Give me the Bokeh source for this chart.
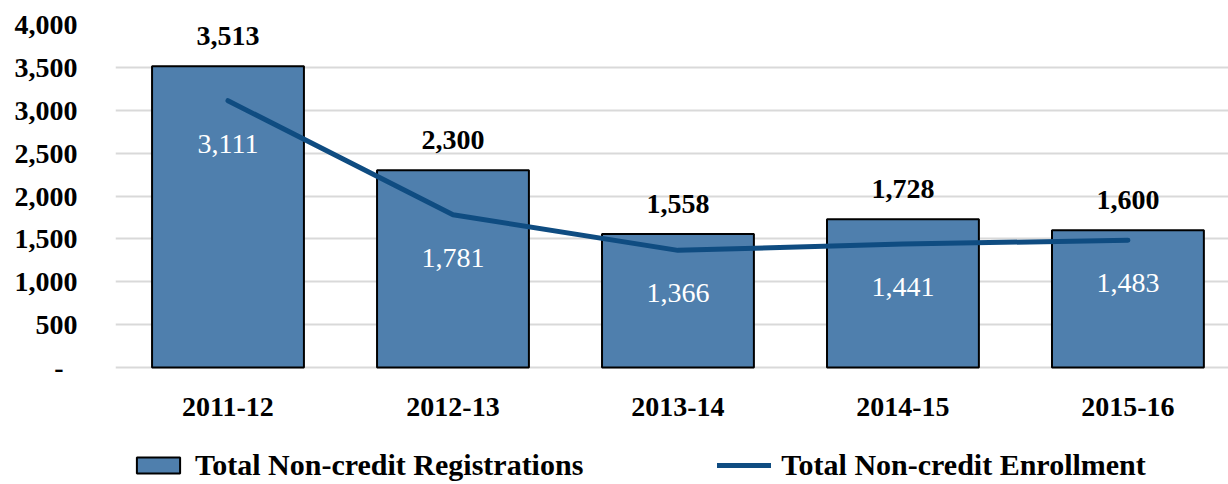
from bokeh.plotting import figure
from bokeh.models import ColumnDataSource, FixedTicker, NumeralTickFormatter, Legend, LegendItem
from bokeh.embed import file_html
from bokeh.resources import INLINE
from bokeh.core.properties import value

years = ["2011-12", "2012-13", "2013-14", "2014-15", "2015-16"]
registrations = [3513, 2300, 1558, 1728, 1600]
enrollment = [3111, 1781, 1366, 1441, 1483]
y_ticks = [0, 500, 1000, 1500, 2000, 2500, 3000, 3500, 4000]

FONT = "Liberation Serif"
FS = "28px"
BAR = "#4F7FAD"
LINE = "#0F4C81"

xs = list(range(len(years)))
src = ColumnDataSource(dict(
    x=xs, reg=registrations, enr=enrollment,
    reg_lbl=[f"{v:,}" for v in registrations],
    enr_lbl=[f"{v:,}" for v in enrollment],
))

# frame spans the whole height; 4000 at 24px from top, 0 at 367px
p = figure(width=1228, height=484, x_range=(-0.5, 4.447), y_range=(-1364.4, 4000),
           output_backend="svg", toolbar_location=None,
           min_border_left=115, min_border_right=0, min_border_top=24, min_border_bottom=0)
p.outline_line_color = None
p.background_fill_color = "white"

bars = p.vbar(x="x", top="reg", width=0.675, source=src, fill_color=BAR,
              line_color="black", line_width=2)
line = p.line(x="x", y="enr", source=src, line_width=5, line_color=LINE, line_cap="round")

p.text(x="x", y="reg", text="reg_lbl", source=src, y_offset=-30,
       text_align="center", text_baseline="middle", text_font=value(FONT),
       text_font_size=FS, text_font_style="bold", text_color="black")
p.text(x="x", y="enr", text="enr_lbl", source=src, y_offset=43,
       text_align="center", text_baseline="middle", text_font=value(FONT),
       text_font_size=FS, text_color="white")

# axes
p.yaxis.ticker = FixedTicker(ticks=y_ticks)
p.yaxis.formatter = NumeralTickFormatter(format="0,0")
p.yaxis.major_label_overrides = {0: "-\u00a0\u00a0"}
p.xaxis.ticker = FixedTicker(ticks=xs)
p.xaxis.major_label_overrides = {i: y for i, y in enumerate(years)}
p.xaxis.fixed_location = 0
for ax in (p.xaxis[0], p.yaxis[0]):
    ax.axis_line_color = None
    ax.major_tick_line_color = None
    ax.minor_tick_line_color = None
    ax.major_label_text_font = FONT
    ax.major_label_text_font_size = FS
    ax.major_label_text_font_style = "bold"
    ax.major_label_text_color = "black"
p.yaxis.major_label_standoff = 32
p.xaxis.major_label_standoff = 24

p.xgrid.grid_line_color = None
p.ygrid.grid_line_color = "#D9D9D9"
p.ygrid.grid_line_width = 2

legend = Legend(items=[
    LegendItem(label="Total Non-credit Registrations", renderers=[bars]),
    LegendItem(label="Total Non-credit Enrollment", renderers=[line]),
], orientation="horizontal", location=(16, 2),
    label_text_font=FONT, label_text_font_size="30px", label_text_font_style="bold",
    label_text_color="black",
    glyph_width=54, glyph_height=20, label_height=30, label_standoff=10, spacing=134,
    border_line_color=None, background_fill_alpha=0, padding=0, margin=0)
p.add_layout(legend, "center")

open("out.html", "w").write(file_html(p, INLINE))
